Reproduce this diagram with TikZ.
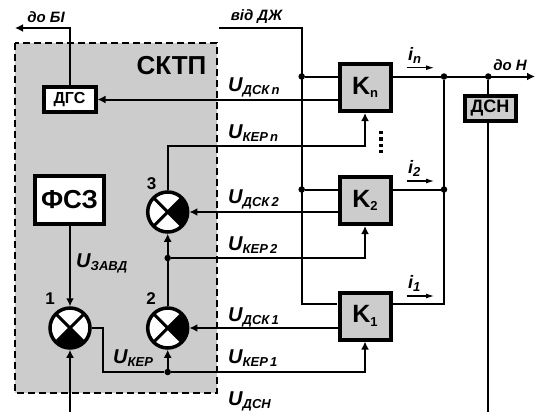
\documentclass[tikz,border=0pt]{standalone}
\usepackage{fontspec}
\setmainfont{Liberation Sans}
\usetikzlibrary{arrows.meta}
\definecolor{panel}{gray}{0.8}
\tikzset{
  wire/.style={line width=2pt},
  arr/.style={wire, -{Latex[length=8pt,width=8pt]}},
  curr/.style={line width=1.1pt, -{Latex[length=8pt,width=5pt]}},
  block/.style={rectangle, draw, line width=4pt, inner sep=0pt, align=center},
  mult/.style={circle, draw, line width=3.5pt, minimum size=40pt, inner sep=0pt, fill=white,
    path picture={
      \fill[black] (path picture bounding box.center) -- ++(#1-45:30) -- ++(#1+90:42.43) -- cycle;
      \draw[line width=3pt] (path picture bounding box.center) ++(45:30) -- ++(225:60);
      \draw[line width=3pt] (path picture bounding box.center) ++(135:30) -- ++(315:60);
    }},
  dot/.style={circle, fill, minimum size=6.5pt, inner sep=0pt},
  lbl/.style={font=\bfseries\itshape\fontsize{15}{15}\selectfont, inner sep=0pt},
  ulbl/.style={font=\bfseries\itshape\fontsize{20}{20}\selectfont, inner sep=0pt, anchor=base west},
  num/.style={font=\bfseries\fontsize{17}{17}\selectfont, inner sep=0pt}
}
\newcommand{\subsc}[1]{\raisebox{-3.5pt}{\fontsize{13}{13}\selectfont #1}}
\begin{document}
\begin{tikzpicture}[x=1pt, y=-1pt]
    \useasboundingbox (0, 0) rectangle (535, 412);
    % Panel
    \draw[fill=panel, line width=1.4pt, dash pattern=on 7pt off 4pt] (15, 43) rectangle (217, 393);
    \node[font=\bfseries\fontsize{26}{26}\selectfont, inner sep=0pt] at (171.5, 66) (sktp) {СКТП};

    % Nodes
    \node[block, fill=white, minimum width=52pt, minimum height=25pt, font=\bfseries\fontsize{16}{16}\selectfont] at (69.5, 99.5) (dgs) {ДГС};
    \node[block, fill=white, minimum width=69pt, minimum height=48pt, font=\bfseries\fontsize{26}{26}\selectfont] at (69.5, 200) (fsz) {ФСЗ};
    \node[mult=90] at (70, 328) (m1) {};
    \node[mult=0] at (167.7, 328) (m2) {};
    \node[mult=0] at (167.7, 212) (m3) {};
    \node[num] at (50, 299) (n1) {1};
    \node[num] at (151, 299) (n2) {2};
    \node[num] at (151.5, 184) (n3) {3};

    \node[block, fill=panel, minimum width=51pt, minimum height=47pt, font=\bfseries\fontsize{25}{25}\selectfont] at (365, 87.5) (kn) {K\subsc{n}};
    \node[block, fill=panel, minimum width=51pt, minimum height=47pt, font=\bfseries\fontsize{25}{25}\selectfont] at (365, 200.5) (k2) {K\subsc{2}};
    \node[block, fill=panel, minimum width=51pt, minimum height=47pt, font=\bfseries\fontsize{25}{25}\selectfont] at (365, 316) (k1) {K\subsc{1}};
    \node[block, fill=panel, minimum width=51pt, minimum height=25pt, font=\bfseries\fontsize{18}{18}\selectfont] at (490, 108.5) (dsn) {ДСН};

    % Junctions
    \node[dot] at (301.7, 76.5) (jn) {};
    \node[dot] at (301.7, 189.5) (j2) {};
    \node[dot] at (444, 76.5) (bn) {};
    \node[dot] at (444, 189.5) (b2) {};
    \node[dot] at (488.3, 76.5) (bo) {};
    \node[dot] at (167.7, 258) (jk2) {};
    \node[dot] at (167.7, 372) (jk1) {};

    % Free ends
    \coordinate (bi) at (15, 28);
    \coordinate (dzh) at (219, 28);
    \coordinate (out) at (535, 76.5);
    \coordinate (in) at (70, 412);
    \coordinate (dsnend) at (488.3, 412);
    \coordinate (k1l) at (337, 304);
    \coordinate (k1r) at (393, 304);
    \coordinate (k1s) at (337, 328);
    \coordinate (k2s) at (337, 212);
    \coordinate (kns) at (337, 99.5);
    \coordinate (bend) at (102.5, 328);
    \coordinate (bus) at (301.7, 304);
    \coordinate (busr) at (444, 304);
    \coordinate (dgsup) at (70, 28);
    \coordinate (dztop) at (301.7, 28);
    \coordinate (kerrow) at (301.7, 146);

    % Connectors
    \draw[wire] (dzh) -- (dztop) -- (bus) -- (k1l);
    \draw[wire] (jn) -- (jn -| kn.west);
    \draw[wire] (j2) -- (j2 -| k2.west);
    \draw[arr] (kn.west |- kns) -- (dgs.east |- kns);
    \draw[arr] (k2.west |- k2s) -- (m3.east |- k2s);
    \draw[arr] (k1.west |- k1s) -- (m2.east |- k1s);
    \draw[arr] (dgs.north -| dgsup) -- (dgsup) -- (bi);
    \draw[arr] (fsz.south -| m1) -- (m1.north);
    \draw[arr] (in) -- (m1.south);
    \draw[arr] (m2.north) -- (m3.south);
    \draw[arr] (jk1) -- (m2.south);
    \draw[wire] (m1.east) -- (bend) |- (jk1);
    \draw[arr] (jk1) -| (k1.south);
    \draw[arr] (jk2) -| (k2.south);
    \draw[arr] (m3.north) |- (kerrow) -| (kn.south);
    \draw[wire] (kn.east |- bn) -- (bn);
    \draw[arr] (bn) -- (out);
    \draw[wire] (k2.east |- b2) -- (b2);
    \draw[wire] (k1r) -- (busr) -- (bn);
    \draw[wire] (bo) -- (dsn.north -| bo);
    \draw[wire] (dsn.south -| bo) -- (dsnend);
    \draw[line width=3.5pt, dash pattern=on 3.5pt off 3pt] (381, 130.7) -- (381, 153);

    % Currents
    \draw[curr] (406.7, 67.7) -- (434, 67.7);
    \draw[curr] (406.7, 181) -- (434, 181);
    \draw[curr] (406.7, 296) -- (434, 296);

    % Labels
    \node[lbl] at (46, 17) (tobi) {до БІ};
    \node[lbl] at (256.5, 17) (fromdzh) {від ДЖ};
    \node[lbl] at (510, 65) (ton) {до Н};
    \node[ulbl] at (408, 60) (in_) {\fontsize{18}{18}\selectfont i\subsc{n}};
    \node[ulbl] at (408, 173) (i2) {\fontsize{18}{18}\selectfont i\subsc{2}};
    \node[ulbl] at (408, 288) (i1) {\fontsize{18}{18}\selectfont i\subsc{1}};
    \node[ulbl] at (228, 91) (udskn) {U\subsc{ДСК\,n}};
    \node[ulbl] at (228, 138) (ukern) {U\subsc{КЕР\,n}};
    \node[ulbl] at (228, 203) (udsk2) {U\subsc{ДСК\,2}};
    \node[ulbl] at (228, 250) (uker2) {U\subsc{КЕР\,2}};
    \node[ulbl] at (228, 321) (udsk1) {U\subsc{ДСК\,1}};
    \node[ulbl] at (228, 363) (uker1) {U\subsc{КЕР\,1}};
    \node[ulbl] at (228, 405) (udsn) {U\subsc{ДСН}};
    \node[ulbl] at (76, 267) (uzavd) {U\subsc{ЗАВД}};
    \node[ulbl] at (113, 363) (uker) {U\subsc{КЕР}};
\end{tikzpicture}
\end{document}
